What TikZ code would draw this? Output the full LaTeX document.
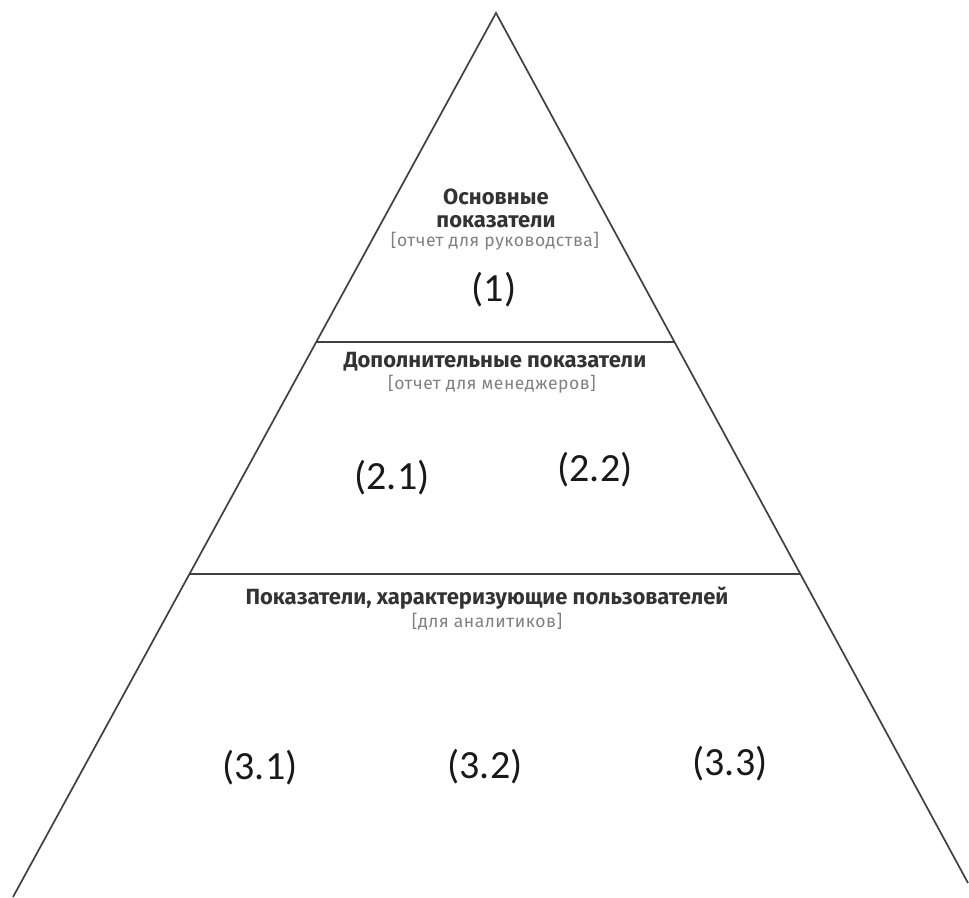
\documentclass[tikz,border=0pt]{standalone}
\usepackage{fontspec}
\setmainfont{Fira Sans}
\newfontfamily\numfont{Carlito}
\newfontfamily\subfont[LetterSpace=3]{Fira Sans}
\begin{document}
\begin{tikzpicture}[x=1pt,y=-1pt,
  edge/.style={draw=black!75,line width=1.7pt},
  head/.style={font=\fontsize{22}{23}\selectfont\bfseries,text=black!80,inner sep=0pt,align=center},
  sub/.style={font=\subfont\fontsize{17.5}{19}\selectfont,text=black!50,inner sep=0pt},
  num/.style={font=\numfont\fontsize{40}{44}\selectfont,text=black!90,inner sep=0pt}]
\useasboundingbox (0,0) rectangle (969,897);
\coordinate (A) at (496,13);
\coordinate (L) at (13,897);
\coordinate (R) at (968,883);
\draw[edge] (L) -- (A) -- (R);
\path (A) -- (L) coordinate[pos=0.3722] (l1) coordinate[pos=0.6346] (l2);
\path (A) -- (R) coordinate[pos=0.3782] (r1) coordinate[pos=0.6448] (r2);
\draw[edge] (l1) -- (r1);
\draw[edge] (l2) -- (r2);
\node[head] (h1) at (496,208) {Основные\\показатели};
\node[sub] (s1) at (495,241) {[отчет для руководства]};
\node[num] (n1) at (494,290) {(1)};
\node[head] (h2) at (495,362) {Дополнительные показатели};
\node[sub] (s2) at (492,384) {[отчет для менеджеров]};
\node[num] (n21) at (392,478) {(2.1)};
\node[num] (n22) at (595,470) {(2.2)};
\node[head] (h3) at (487,598) {Показатели, характеризующие пользователей};
\node[sub] (s3) at (487,622) {[для аналитиков]};
\node[num] (n31) at (260,768) {(3.1)};
\node[num] (n32) at (485,767) {(3.2)};
\node[num] (n33) at (730,764) {(3.3)};
\end{tikzpicture}
\end{document}
